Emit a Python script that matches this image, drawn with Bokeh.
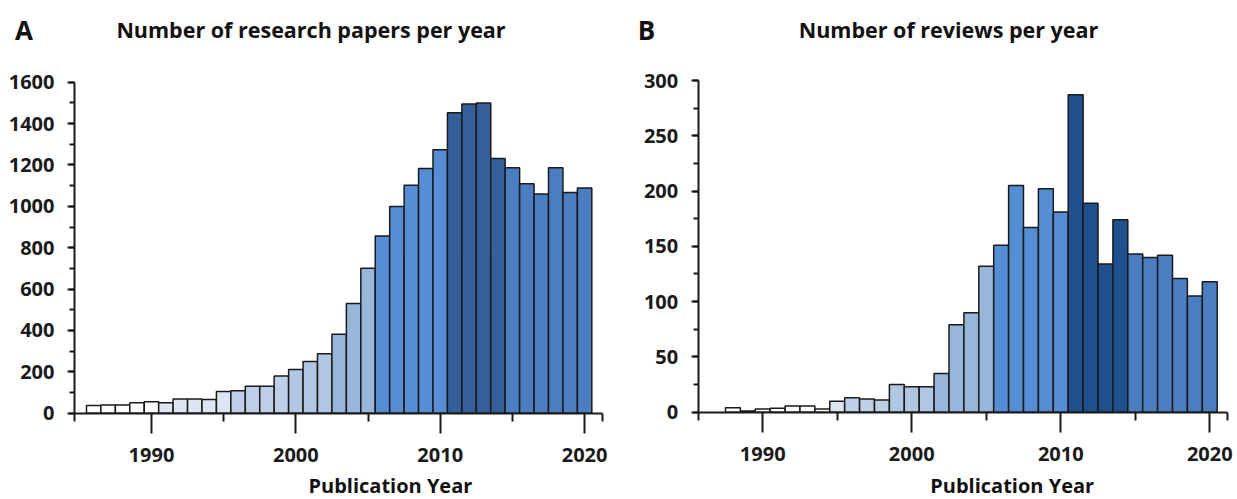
from bokeh.plotting import figure
from bokeh.layouts import row
from bokeh.models import Label, FixedTicker, SingleIntervalTicker, ColumnDataSource, Range1d
from bokeh.embed import file_html
from bokeh.resources import INLINE

# ---------------- data ----------------
papers_years = list(range(1986, 2021))
papers_counts = [37, 40, 40, 50, 55, 50, 69, 69, 66, 105, 108, 130, 130, 180, 211,
                 250, 287, 382, 530, 701, 856, 999, 1102, 1183, 1273, 1452, 1495,
                 1499, 1231, 1186, 1109, 1060, 1186, 1067, 1088]

reviews_years = list(range(1988, 2021))
reviews_counts = [4, 1, 3, 3.5, 5.5, 5.5, 3, 10, 13, 12, 11, 25, 23, 23, 35, 79, 90,
                  132, 151, 205, 167, 202, 181, 287, 189, 134, 174, 143, 140, 142,
                  121, 105, 118]

x_major_ticks = [1990, 2000, 2010, 2020]
x_minor_ticks = [1995, 2005, 2015]

# ---------------- styles ----------------
WHITE = "#ffffff"
PALE = "#dce6f2"
LIGHT = "#bdd0e8"
LIGHT2 = "#b0c6e2"
MID_L = "#98b5da"
BRIGHT = "#558ed5"
DARK_A = "#355f9a"
DARK_B = "#21508e"
TAIL = "#4a7ec1"

papers_colors = ([WHITE] * 5 + [PALE] * 5 + [LIGHT] * 4 + [LIGHT2] * 3 +
                 [MID_L] * 3 + [BRIGHT] * 5 + [DARK_A] * 4 + [TAIL] * 6)
reviews_colors = ([WHITE] * 7 + [PALE] * 1 + [LIGHT] * 3 + [LIGHT2] * 3 +
                  [MID_L] * 4 + [BRIGHT] * 5 + [DARK_B] * 4 + [TAIL] * 6)

FONT = "Open Sans"
INK = "#1a1a1a"
H = 499


def make_panel(years, counts, colors, width, x_bounds, x_px, ymax, y_px, yint,
               letter, title, xlabel, letter_cx, title_cx, title_base,
               xlabel_cx, xlabel_base):
    # map canvas pixels -> data so the axes land where the reference has them
    xa, xb = x_bounds
    pa, pb = x_px
    upx = (xb - xa) / (pb - pa)
    x0 = xa - pa * upx
    x1 = x0 + width * upx
    base_px, top_px = y_px
    upy = ymax / (base_px - top_px)
    y1 = ymax + top_px * upy
    y0 = -(H - base_px) * upy

    def dx(px):
        return x0 + px * upx

    def dy(py):
        return y1 - py * upy

    p = figure(width=width, height=H, x_range=Range1d(x0, x1), y_range=Range1d(y0, y1),
               output_backend="svg", toolbar_location=None, min_border=0,
               min_border_left=0, min_border_right=0, min_border_top=0,
               min_border_bottom=0)
    src = ColumnDataSource(dict(year=years, count=counts, color=colors))
    p.vbar(x="year", top="count", bottom=0, width=1.0, source=src,
           fill_color="color", line_color=INK, line_width=1.5)

    p.xgrid.grid_line_color = None
    p.ygrid.grid_line_color = None
    p.outline_line_color = None
    p.background_fill_color = "white"
    p.border_fill_color = "white"

    eps = 0.01
    p.xaxis.ticker = FixedTicker(ticks=x_major_ticks,
                                 minor_ticks=[xa + eps] + x_minor_ticks + [xb - eps])
    p.yaxis.ticker = SingleIntervalTicker(interval=yint, num_minor_ticks=2)
    p.xaxis.fixed_location = 0
    p.yaxis.fixed_location = xa
    p.xaxis.bounds = (xa, xb)
    p.yaxis.bounds = (0, ymax)

    for ax in (p.xaxis, p.yaxis):
        ax.axis_line_width = 2
        ax.axis_line_color = INK
        ax.major_tick_line_width = 2
        ax.minor_tick_line_width = 2
        ax.major_tick_line_color = INK
        ax.minor_tick_line_color = INK
        ax.major_tick_in = 0
        ax.minor_tick_in = 0
        ax.major_label_text_font = FONT
        ax.major_label_text_font_style = "bold"
        ax.major_label_text_font_size = "20px"
        ax.major_label_text_color = INK
    p.xaxis.major_tick_out = 20
    p.xaxis.minor_tick_out = 8
    p.xaxis.major_label_standoff = 15
    p.yaxis.major_tick_out = 7
    p.yaxis.minor_tick_out = 5
    p.yaxis.major_label_standoff = 13

    p.add_layout(Label(x=dx(letter_cx), y=dy(title_base), text=letter,
                       text_font=FONT, text_font_style="bold", text_font_size="26px",
                       text_color="#111111", text_align="center",
                       text_baseline="alphabetic"))
    p.add_layout(Label(x=dx(title_cx), y=dy(title_base), text=title,
                       text_font=FONT, text_font_style="bold", text_font_size="21.5px",
                       text_color="#111111", text_align="center",
                       text_baseline="alphabetic"))
    p.add_layout(Label(x=dx(xlabel_cx), y=dy(xlabel_base), text=xlabel,
                       text_font=FONT, text_font_style="bold", text_font_size="20px",
                       text_color="#111111", text_align="center",
                       text_baseline="alphabetic"))
    return p


p1 = make_panel(papers_years, papers_counts, papers_colors, 628,
                x_bounds=(1984.67, 2021.24), x_px=(74, 602),
                ymax=1600, y_px=(412.7, 81.7), yint=200,
                letter="A", title="Number of research papers per year",
                xlabel="Publication  Year",
                letter_cx=23.5, title_cx=310.5, title_base=29,
                xlabel_cx=392.5, xlabel_base=485)
p2 = make_panel(reviews_years, reviews_counts, reviews_colors, 609,
                x_bounds=(1985.67, 2021.17), x_px=(69.7, 598.7),
                ymax=300, y_px=(411.7, 80), yint=50,
                letter="B", title="Number of reviews per year",
                xlabel="Publication Year",
                letter_cx=18, title_cx=320, title_base=29,
                xlabel_cx=383.7, xlabel_base=485)

layout = row(p1, p2)
open("out.html", "w").write(file_html(layout, INLINE))
